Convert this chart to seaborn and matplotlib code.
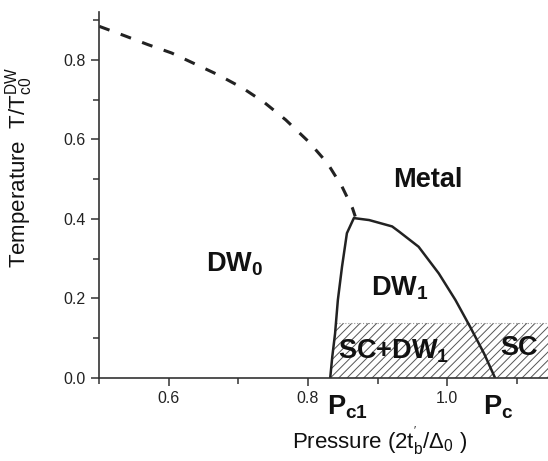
import matplotlib
matplotlib.use("Agg")
import matplotlib.pyplot as plt
import seaborn as sns
import pandas as pd

# boundary DW0 -> metal (dashed)
p_dw0 = [0.500, 0.537, 0.570, 0.604, 0.637, 0.671, 0.706, 0.737, 0.768,
         0.801, 0.828, 0.849, 0.864, 0.868]
t_dw0 = [0.884, 0.860, 0.838, 0.817, 0.790, 0.762, 0.729, 0.693, 0.649,
         0.594, 0.540, 0.481, 0.427, 0.406]

# DW1 dome (solid)
p_dw1 = [0.832, 0.835, 0.839, 0.843, 0.849, 0.856, 0.866, 0.888, 0.921,
         0.931, 0.959, 0.988, 1.012, 1.033, 1.053, 1.069]
t_dw1 = [0.000, 0.054, 0.112, 0.196, 0.280, 0.364, 0.402, 0.397, 0.381,
         0.368, 0.330, 0.263, 0.196, 0.129, 0.062, 0.000]

# SC region (hatched)
sc_top = 0.138
sc_t = [0.0, 0.054, 0.112, sc_top]
sc_left = [0.832, 0.835, 0.839, 0.8405]

sns.set_style("ticks")
plt.rcParams["font.family"] = ["Liberation Sans", "DejaVu Sans"]
plt.rcParams["mathtext.fontset"] = "custom"
plt.rcParams["mathtext.rm"] = "Liberation Sans"
plt.rcParams["mathtext.it"] = "Liberation Sans"
plt.rcParams["mathtext.bf"] = "Liberation Sans:bold"
plt.rcParams["hatch.color"] = "#444444"
plt.rcParams["hatch.linewidth"] = 0.7

fig = plt.figure(figsize=(5.48, 4.61), dpi=100)
ax = fig.add_axes([0.181, 0.18, 0.819, 0.794])

xmax = 1.145
ax.fill_betweenx(sc_t, sc_left, [xmax] * len(sc_t), facecolor="none",
                 edgecolor="#555555", hatch="////", linewidth=0)
ax.plot([sc_left[-1], xmax], [sc_top, sc_top], color="#999999", lw=0.8, ls=":")

d0 = pd.DataFrame({"p": p_dw0, "t": t_dw0})
d1 = pd.DataFrame({"p": p_dw1, "t": t_dw1})
sns.lineplot(data=d0, x="p", y="t", sort=False, color="#222222", lw=2.2,
             ax=ax, linestyle=(0, (3.6, 3.9)))
sns.lineplot(data=d1, x="p", y="t", sort=False, color="#222222", lw=1.8, ax=ax)

ax.set_xlim(0.5, xmax)
ax.set_ylim(0, 0.92)
ax.set_xticks([0.6, 0.8, 1.0])
ax.set_xticks([0.5, 0.7, 0.9, 1.1], minor=True)
ax.set_yticks([0.0, 0.2, 0.4, 0.6, 0.8])
ax.set_yticks([0.1, 0.3, 0.5, 0.7, 0.9], minor=True)
ax.tick_params(which="major", length=6, width=1.1, labelsize=11.5,
               direction="out", colors="#333333", labelcolor="#222222")
ax.tick_params(which="minor", length=4, width=1.1, direction="out",
               colors="#333333")
for s in ["top", "right"]:
    ax.spines[s].set_visible(False)
for s in ["left", "bottom"]:
    ax.spines[s].set_linewidth(1.2)
    ax.spines[s].set_color("#333333")

ax.set_xlabel(r"Pressure (2t$_b^{'}$/$\Delta_0$ )", fontsize=16, color="#111111")
ax.set_ylabel(r"Temperature  T/T$_{c0}^{DW}$", fontsize=16, color="#111111")
ax.xaxis.set_label_coords(0.626, -0.125)
ax.yaxis.set_label_coords(-0.142, 0.575)

kw = dict(fontsize=19.5, fontweight="bold", ha="center", va="center",
          color="#111111")
ax.text(0.972, 0.498, "Metal", **kw)
ax.text(0.694, 0.285, r"DW$_\mathbf{0}$", **kw)
ax.text(0.932, 0.225, r"DW$_\mathbf{1}$", **kw)
ax.text(0.923, 0.068, r"SC+DW$_\mathbf{1}$", **kw)
ax.text(1.103, 0.075, "SC", **kw)
kw_p = dict(fontsize=19.5, fontweight="bold", ha="center", va="baseline",
            color="#111111")
ax.text(0.857, -0.091, r"P$_\mathbf{c1}$", **kw_p)
ax.text(1.074, -0.091, r"P$_\mathbf{c}$", **kw_p)

fig.savefig("out.png", dpi=100)
